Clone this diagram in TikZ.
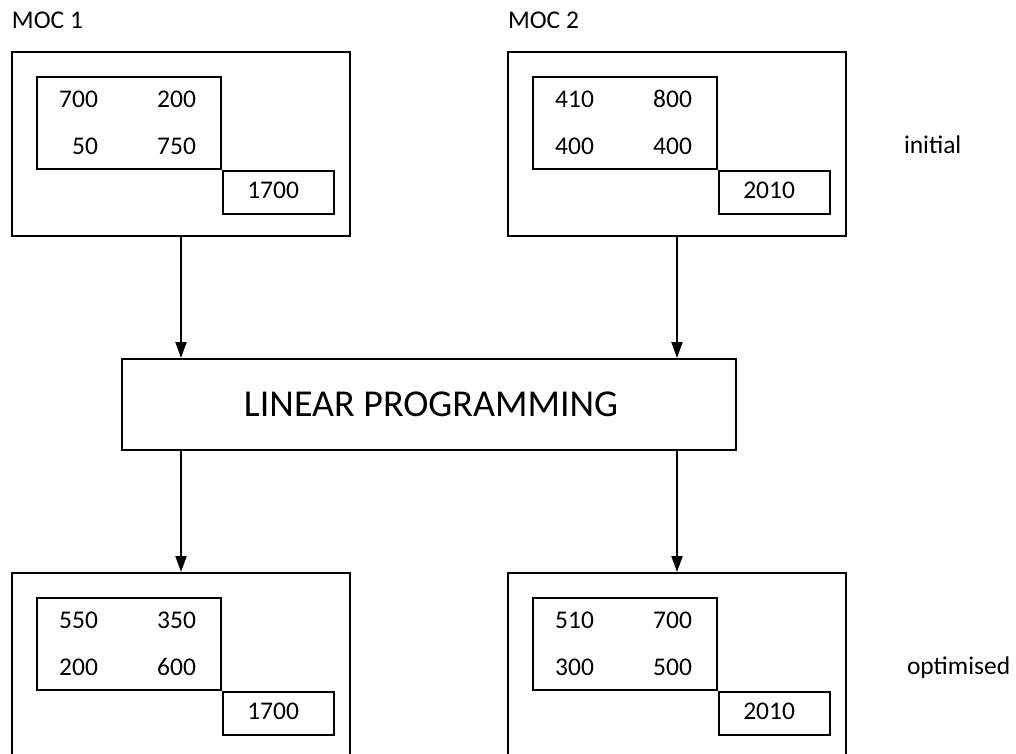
\documentclass[tikz,border=0pt]{standalone}
\usepackage{fontspec}
\setmainfont{Carlito}
\usetikzlibrary{arrows.meta}
\begin{document}
\begin{tikzpicture}[x=1pt,y=-1pt,line width=2pt,
  txt/.style={font=\fontsize{25.5}{30}\selectfont, inner sep=0pt},
  outerbox/.style={draw, minimum width=338pt, minimum height=184pt, anchor=north west, inner sep=0pt},
  innerbox/.style={draw, minimum width=184pt, minimum height=92pt, anchor=north west, inner sep=0pt},
  totbox/.style={draw, minimum width=111pt, minimum height=43pt, anchor=north west, inner sep=0pt},
  num/.style={txt, anchor=east},
  lpbox/.style={draw, minimum width=614pt, minimum height=91pt, anchor=north west, inner sep=0pt},
  arr/.style={-{Triangle[length=16pt,width=11pt]}, line width=2pt}]
\useasboundingbox (0,0) rectangle (1016,753);
\clip (0,0) rectangle (1016,753);
% labels
\node[txt, anchor=west] (moc1) at (11,20.5) {MOC 1};
\node[txt, anchor=west] (moc2) at (507,20.5) {MOC 2};
\node[txt, anchor=west] (init) at (903,145) {initial};
\node[txt, anchor=west] (opt) at (906,668) {optimised};
% top-left
\node[outerbox] (o1) at (11,51) {};
\node[innerbox] (i1) at (36,76) {};
\node[totbox] (t1) at (i1.south east) {};
\node[num] (a1) at (99,99) {700};
\node[num] (b1) at (197,99) {200};
\node[num] (c1) at (99,146) {50};
\node[num] (d1) at (197,146) {750};
\node[num] (s1) at (300,190) {1700};
% top-right
\node[outerbox] (o2) at (507,51) {};
\node[innerbox] (i2) at (532,76) {};
\node[totbox] (t2) at (i2.south east) {};
\node[num] (a2) at (595,99) {410};
\node[num] (b2) at (693,99) {800};
\node[num] (c2) at (595,146) {400};
\node[num] (d2) at (693,146) {400};
\node[num] (s2) at (796,190) {2010};
% linear programming
\node[lpbox] (lp) at (121,358) {};
\node[font=\fontsize{38}{44}\selectfont, inner sep=0pt] (lpt) at (431,404) {LINEAR PROGRAMMING};
% bottom-left
\node[outerbox] (o3) at (11,572) {};
\node[innerbox] (i3) at (36,597) {};
\node[totbox] (t3) at (i3.south east) {};
\node[num] (a3) at (99,620) {550};
\node[num] (b3) at (197,620) {350};
\node[num] (c3) at (99,667) {200};
\node[num] (d3) at (197,667) {600};
\node[num] (s3) at (300,711) {1700};
% bottom-right
\node[outerbox] (o4) at (507,572) {};
\node[innerbox] (i4) at (532,597) {};
\node[totbox] (t4) at (i4.south east) {};
\node[num] (a4) at (595,620) {510};
\node[num] (b4) at (693,620) {700};
\node[num] (c4) at (595,667) {300};
\node[num] (d4) at (693,667) {500};
\node[num] (s4) at (796,711) {2010};
% arrows
\draw[arr] (o1.south) -- (o1.south |- lp.north);
\draw[arr] (o2.south) -- (o2.south |- lp.north);
\draw[arr] (lp.south -| o3.north) -- (o3.north);
\draw[arr] (lp.south -| o4.north) -- (o4.north);
\end{tikzpicture}
\end{document}
